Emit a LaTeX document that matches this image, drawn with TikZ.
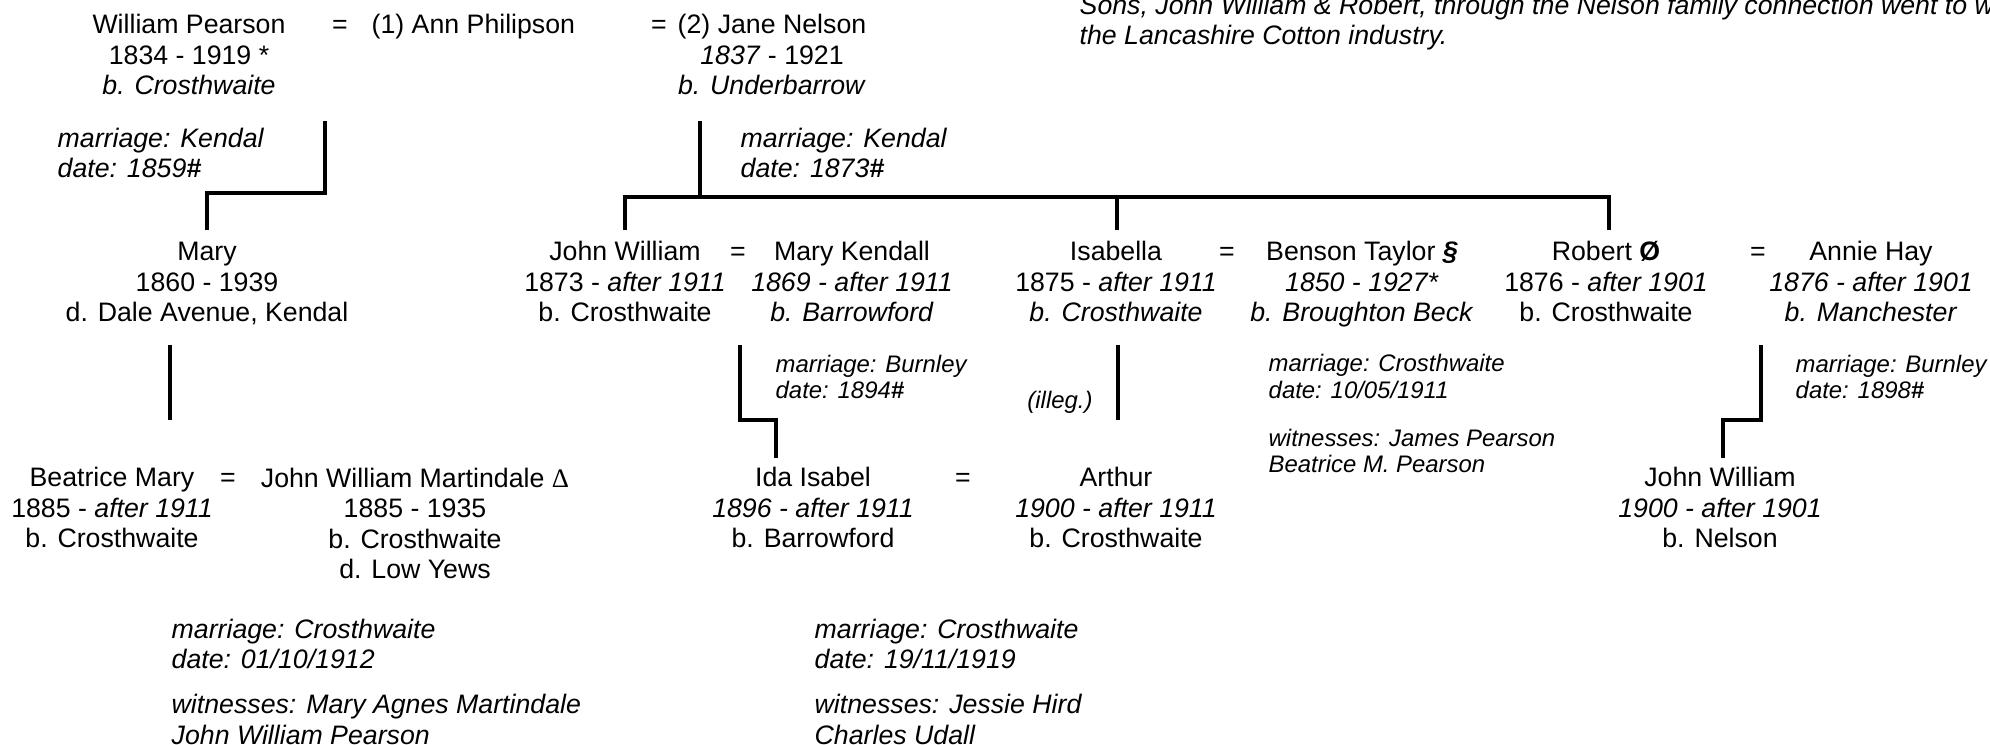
\documentclass[tikz,border=0pt]{standalone}
\usepackage{fontspec}
\setmainfont{Liberation Sans}
\newfontfamily\symfont{Liberation Serif}
\begin{document}
\begin{tikzpicture}[x=0.1mm,y=-0.1mm,line join=miter]
    % multi-line nodes sit on the baseline of their last line
    \def\namesize{\fontsize{7.6}{8.7}\selectfont}
    \def\notesize{\fontsize{6.8}{7.6}\selectfont}
    \tikzset{person/.style={align=center,anchor=base,inner sep=0pt,font=\namesize},
             wed/.style={anchor=base,inner sep=0pt,font=\namesize},
             note/.style={align=left,anchor=base west,inner sep=0pt,font=\namesize\itshape},
             smallnote/.style={note,font=\notesize\itshape},
             link/.style={line width=0.45mm}}
    \useasboundingbox (0,0) rectangle (1990,745);
    \clip (0,0) rectangle (1990,745);
    % William Pearson and his two wives
    \node[person] (william) at (189,95) {William Pearson\\1834 - 1919 *\\\textit{b. Crosthwaite}};
    \node[wed] (eqa) at (340,34) {=};
    \node[wed,anchor=base west] (ann) at (371,34) {(1) Ann Philipson};
    \node[wed] (eqb) at (659,34) {=};
    \node[person] (jane) at (772,95) {(2) Jane Nelson\\\textit{1837} - 1921\\\textit{b. Underbarrow}};
    \node[note] (story) at (1079,45) {Sons, John William \& Robert, through the Nelson family connection went to work in\\the Lancashire Cotton industry.};
    \node[note] (wedA) at (57,178) {marriage: Kendal\\date: 1859\textbf{\#}};
    \node[note] (wedB) at (740,178) {marriage: Kendal\\date: 1873\textbf{\#}};
    \coordinate (topA) at (325,121);
    \coordinate (endA) at (207,230);
    \draw[link] (topA) -- ++(0,72) -| (endA);
    \coordinate (topB) at (700,121);
    \coordinate (bar) at (700,197);
    \coordinate (endB) at (625,230);
    \coordinate (endC) at (1117,230);
    \coordinate (endD) at (1609,230);
    \draw[link] (topB) -- (bar);
    \draw[link] (endB) -- (endB |- bar) -- (endD |- bar) -- (endD);
    \draw[link] (endC) -- (endC |- bar);
    % children
    \node[person] (mary) at (207,322) {Mary\\1860 - 1939\\d. Dale Avenue, Kendal};
    \node[person] (john) at (625,322) {John William\\1873 - \textit{after 1911}\\b. Crosthwaite};
    \node[wed] (eqc) at (738,261) {=};
    \node[person] (kendall) at (852,322) {Mary Kendall\\\textit{1869 - after 1911}\\\textit{b. Barrowford}};
    \node[person] (isabella) at (1116,322) {Isabella\\1875 - \textit{after 1911}\\\textit{b. Crosthwaite}};
    \node[wed] (eqd) at (1227,261) {=};
    \node[person] (benson) at (1362,322) {Benson Taylor \textbf{\textit{§}}\\\textit{1850 - 1927*}\\\textit{b. Broughton Beck}};
    \node[person] (robert) at (1606,322) {Robert \textbf{Ø}\\1876 - \textit{after 1901}\\b. Crosthwaite};
    \node[wed] (eqe) at (1758,261) {=};
    \node[person] (annie) at (1871,322) {Annie Hay\\\textit{1876 - after 1901}\\\textit{b. Manchester}};
    \node[smallnote] (wedC) at (775,399) {marriage: Burnley\\date: 1894\textbf{\#}};
    \node[smallnote] (wedD) at (1268,473) {marriage: Crosthwaite\\date: 10/05/1911\\[2.1mm]witnesses: James Pearson\\Beatrice M. Pearson};
    \node[smallnote] (wedE) at (1795,399) {marriage: Burnley\\date: 1898\textbf{\#}};
    \node[smallnote,anchor=base] (illeg) at (1060,409) {(illeg.)};
    \coordinate (topC) at (170,345);
    \coordinate (endE) at (170,420);
    \draw[link] (topC) -- (endE);
    \coordinate (topD) at (740,345);
    \coordinate (endF) at (776,458);
    \draw[link] (topD) -- ++(0,75) -| (endF);
    \coordinate (topE) at (1118,345);
    \coordinate (endG) at (1118,420);
    \draw[link] (topE) -- (endG);
    \coordinate (topF) at (1761,345);
    \coordinate (endH) at (1723,458);
    \draw[link] (topF) -- ++(0,75) -| (endH);
    % grandchildren
    \node[person] (beatrice) at (112,548) {Beatrice Mary\\1885 - \textit{after 1911}\\b. Crosthwaite};
    \node[wed] (eqf) at (228,487) {=};
    \node[person] (martindale) at (415,579) {John William Martindale {\symfont Δ}\\1885 - 1935\\b. Crosthwaite\\d. Low Yews};
    \node[person] (ida) at (813,548) {Ida Isabel\\\textit{1896 - after 1911}\\b. Barrowford};
    \node[wed] (eqg) at (963,487) {=};
    \node[person] (arthur) at (1116,548) {Arthur\\\textit{1900 - after 1911}\\b. Crosthwaite};
    \node[person] (johnjr) at (1720,548) {John William\\\textit{1900 - after 1901}\\b. Nelson};
    \node[note] (wedF) at (171,744) {marriage: Crosthwaite\\date: 01/10/1912\\[1.4mm]witnesses: Mary Agnes Martindale\\John William Pearson};
    \node[note] (wedG) at (814,744) {marriage: Crosthwaite\\date: 19/11/1919\\[1.4mm]witnesses: Jessie Hird\\Charles Udall};
\end{tikzpicture}
\end{document}
